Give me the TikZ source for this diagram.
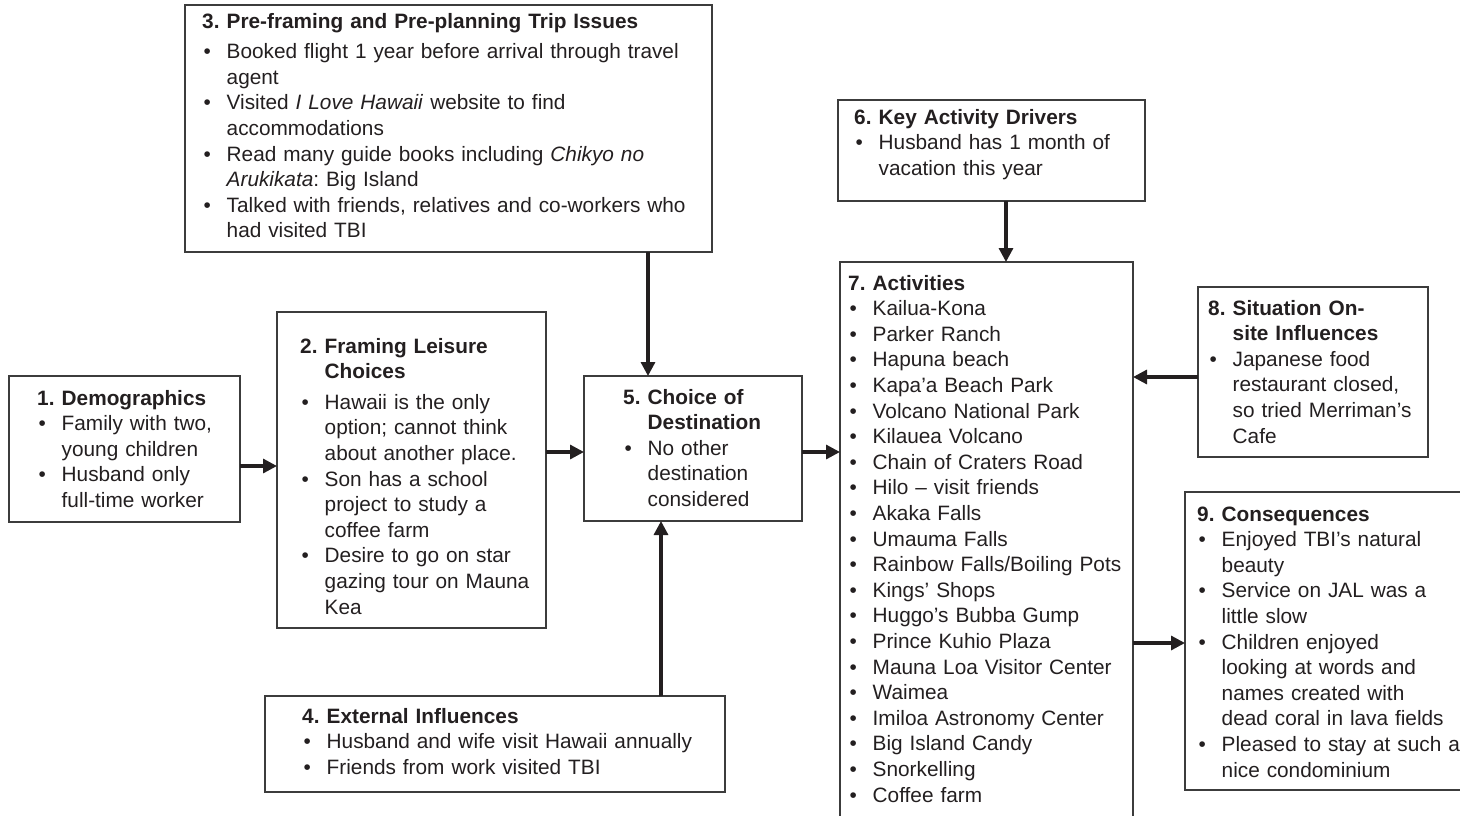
\documentclass[tikz,border=0pt]{standalone}
\usepackage{fontspec}
\setmainfont{Liberation Sans}
\usetikzlibrary{arrows.meta}
\definecolor{ink}{HTML}{231F20}
\definecolor{rulegray}{HTML}{3C3C3C}
\frenchspacing
\newlength\hangw
\setlength\hangw{24.5pt}
% bold numbered heading with hanging continuation lines (always first in a box)
\newcommand\boxtitle[2]{\hangindent\hangw\hangafter1\noindent
  \makebox[\hangw][l]{\bfseries #1}{\bfseries #2}\par}
% bulleted entry with hanging continuation lines
\newcommand\boxitem[1]{\par\hangindent\hangw\hangafter1\noindent
  \makebox[\hangw][l]{\hspace{1.5pt}\textbullet}#1\par}
\begin{document}
\begin{tikzpicture}[x=1pt,y=-1pt,
  frame/.style={draw=rulegray,line width=1.4pt,inner sep=0pt,outer sep=0pt,anchor=north west},
  txt/.style={anchor=base west,inner sep=0pt,text width=560pt,text=ink,
    font=\fontsize{20.8pt}{25.6pt}\selectfont},
  arr/.style={draw=ink,line width=3.2pt,-{Triangle[length=14pt,width=14pt]}}]
\useasboundingbox (0,0) rectangle (1460,815);
\clip (0,0) rectangle (1460,815);

% frames
\node[frame,minimum width=231pt,minimum height=146pt] (b1) at (9,376) {};
\node[frame,minimum width=269pt,minimum height=316pt] (b2) at (277,312) {};
\node[frame,minimum width=527pt,minimum height=247pt] (b3) at (185,5) {};
\node[frame,minimum width=460pt,minimum height=96pt] (b4) at (265,696) {};
\node[frame,minimum width=218pt,minimum height=145pt] (b5) at (584,376) {};
\node[frame,minimum width=307pt,minimum height=101pt] (b6) at (838,100) {};
\node[frame,minimum width=293pt,minimum height=580pt] (b7) at (840,262) {};
\node[frame,minimum width=230pt,minimum height=170pt] (b8) at (1198,287) {};
\node[frame,minimum width=300pt,minimum height=298pt] (b9) at (1185,492) {};

% texts
\node[txt] (t1) at (37,405) {%
  \boxtitle{1.}{Demographics}
  \boxitem{Family with two,\newline young children}
  \boxitem{Husband only\newline full-time worker}};

\node[txt] (t2) at (300,353) {%
  \boxtitle{2.}{Framing Leisure\newline Choices}\vspace{5pt}
  \boxitem{Hawaii is the only\newline option; cannot think\newline about another place.}
  \boxitem{Son has a school\newline project to study a\newline coffee farm}
  \boxitem{Desire to go on star\newline gazing tour on Mauna\newline Kea}};

\node[txt] (t3) at (202,28) {%
  \boxtitle{3.}{Pre-framing and Pre-planning Trip Issues}\vspace{5pt}
  \boxitem{Booked flight 1 year before arrival through travel\newline agent}
  \boxitem{Visited \textit{I Love Hawaii} website to find\newline accommodations}
  \boxitem{Read many guide books including \textit{Chikyo no\newline Arukikata}: Big Island}
  \boxitem{Talked with friends, relatives and co-workers who\newline had visited TBI}};

\node[txt] (t4) at (302,723) {%
  \boxtitle{4.}{External Influences}
  \boxitem{Husband and wife visit Hawaii annually}
  \boxitem{Friends from work visited TBI}};

\node[txt] (t5) at (623,404) {%
  \boxtitle{5.}{Choice of\newline Destination}
  \boxitem{No other\newline destination\newline considered}};

\node[txt] (t6) at (854,124) {%
  \boxtitle{6.}{Key Activity Drivers}
  \boxitem{Husband has 1 month of\newline vacation this year}};

\node[txt] (t7) at (848,290) {%
  \boxtitle{7.}{Activities}
  \boxitem{Kailua-Kona}
  \boxitem{Parker Ranch}
  \boxitem{Hapuna beach}
  \boxitem{Kapa’a Beach Park}
  \boxitem{Volcano National Park}
  \boxitem{Kilauea Volcano}
  \boxitem{Chain of Craters Road}
  \boxitem{Hilo – visit friends}
  \boxitem{Akaka Falls}
  \boxitem{Umauma Falls}
  \boxitem{Rainbow Falls/Boiling Pots}
  \boxitem{Kings’ Shops}
  \boxitem{Huggo’s Bubba Gump}
  \boxitem{Prince Kuhio Plaza}
  \boxitem{Mauna Loa Visitor Center}
  \boxitem{Waimea}
  \boxitem{Imiloa Astronomy Center}
  \boxitem{Big Island Candy}
  \boxitem{Snorkelling}
  \boxitem{Coffee farm}};

\node[txt] (t8) at (1208,315) {%
  \boxtitle{8.}{Situation On-\newline site Influences}
  \boxitem{Japanese food\newline restaurant closed,\newline so tried Merriman’s\newline Cafe}};

\node[txt] (t9) at (1197,521) {%
  \boxtitle{9.}{Consequences}
  \boxitem{Enjoyed TBI’s natural\newline beauty}
  \boxitem{Service on JAL was a\newline little slow}
  \boxitem{Children enjoyed\newline looking at words and\newline names created with\newline dead coral in lava fields}
  \boxitem{Pleased to stay at such a\newline nice condominium}};

% connectors
\draw[arr] (b1.east |- 0,466) -- (b2.west |- 0,466);
\draw[arr] (b2.east |- 0,452) -- (b5.west |- 0,452);
\draw[arr] (b3.south -| 648,0) -- (b5.north -| 648,0);
\draw[arr] (b4.north -| 661,0) -- (b5.south -| 661,0);
\draw[arr] (b5.east |- 0,452) -- (b7.west |- 0,452);
\draw[arr] (b6.south -| 1006,0) -- (b7.north -| 1006,0);
\draw[arr] (b8.west |- 0,377) -- (b7.east |- 0,377);
\draw[arr] (b7.east |- 0,643) -- (b9.west |- 0,643);
\end{tikzpicture}
\end{document}
